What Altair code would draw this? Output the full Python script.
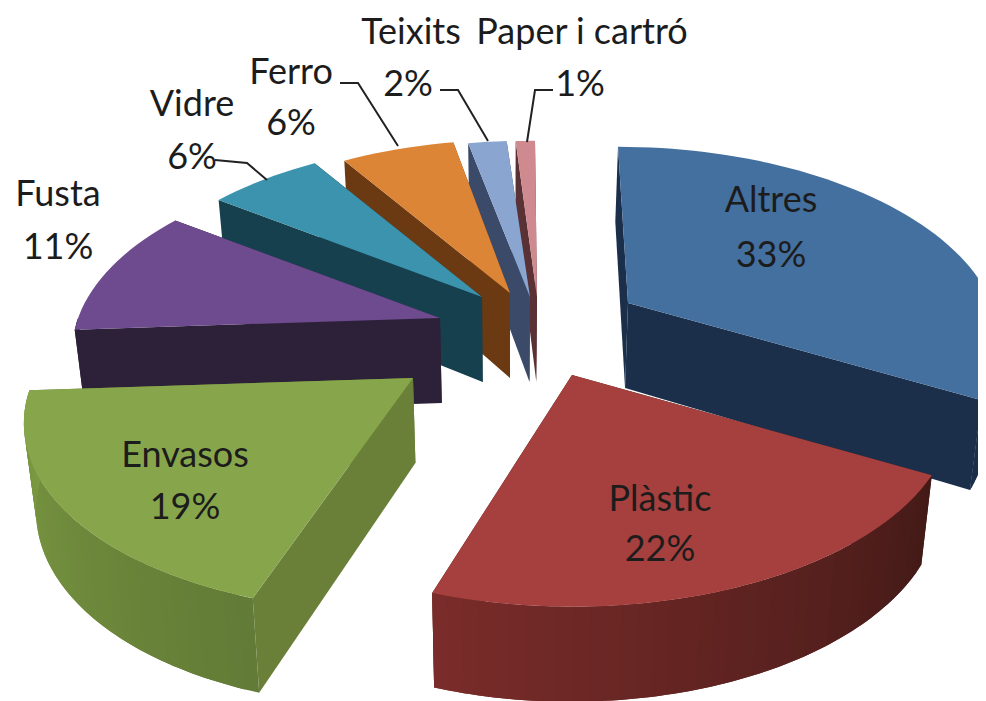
import math
import altair as alt
import pandas as pd

# --- data ---
names = ["Altres", "Plàstic", "Envasos", "Fusta", "Vidre", "Ferro", "Teixits", "Paper i cartró"]
percent = [33, 22, 19, 11, 6, 6, 2, 1]

# --- styling / layout of the 3D look ---
top_col = ["#44709f", "#a5403e", "#87a64b", "#6e4a8e", "#3c93ae", "#dd8537", "#8aa5d0", "#cf8a90"]
side_col = ["#1b2f4b", "#4a1c1a", "#6a8038", "#2c2139", "#17404f", "#6b3a12", "#3b4a69", "#5a3235"]
wall_a = ["#1b2f4b", "#7a2c2a", "#7c9a42", "#2c2139", "#17404f", "#6b3a12", "#3b4a69", "#5a3235"]
wall_b = ["#1b2f4b", "#431a17", "#627b36", "#2c2139", "#17404f", "#6b3a12", "#3b4a69", "#5a3235"]
apex = [(628, 303), (572, 375), (413, 378), (440, 318), (482, 297), (510, 293), (530, 297), (537, 297)]
radial = [0.97, 1.0, 1.01, 0.965, 0.96, 0.95, 0.97, 0.97]
shear = [10, 0, -20, 0, 0, 0, 4, 2]
paint = [7, 6, 5, 4, 3, 0, 2, 1]
SX, SY, P, VX, SHRINK = 375, 190, 0.18, 510, 0.975

label_x = [771, 660, 185, 58, 192, 291, 411, 582]
label_y = [201, 500, 456, 195, 105, 73, 33, 33]
pct_x = [771, 660, 185, 58, 192, 291, 408, 580]
pct_y = [256, 550, 508, 248, 158, 124, 85, 85]
leaders = [
    [(215, 160), (247, 163), (267, 180)],
    [(340, 83), (358, 83), (398, 146)],
    [(440, 90), (458, 90), (488, 141)],
    [(553, 90), (535, 90), (527, 142)],
]

def rim(i, deg):
    a = math.radians(deg)
    u, v = math.sin(a), -math.cos(a)
    f = radial[i] / (1 - P * v)
    return apex[i][0] + SX * u * f + shear[i] * v, apex[i][1] + SY * v * f, v

def drop(x, y, v):
    return VX + (x - VX) * SHRINK, y + 85 + 10 * v

def mix(c1, c2, t):
    a = [int(c1[k:k + 2], 16) for k in (1, 3, 5)]
    b = [int(c2[k:k + 2], 16) for k in (1, 3, 5)]
    return "#%02x%02x%02x" % tuple(round(p + (q - p) * t) for p, q in zip(a, b))

rows = []
pid = 0
def add(points, col):
    global pid
    pid += 1
    for n, (x, y) in enumerate(points):
        rows.append({"poly": pid, "n": n, "x": x, "y": y, "col": col})

bounds = [0]
for p in percent:
    bounds.append(bounds[-1] + p * 3.6)

for i in paint:
    a0, a1 = bounds[i], bounds[i + 1]
    ax, ay = apex[i]
    bx, by = drop(ax, ay, 0)
    for deg in (a1, a0) if i == 0 else (a0, a1):
        x, y, v = rim(i, deg)
        dx, dy = drop(x, y, v)
        add([(ax, ay), (x, y), (dx, dy), (bx, by)], side_col[i])
    # outer wall, only the part turned to the viewer, as overlapping shaded strips
    lo, hi = max(a0, 90), min(a1, 270)
    if hi > lo:
        steps = max(2, int((hi - lo) / 2))
        for s in range(steps):
            d0 = lo + (hi - lo) * s / steps
            d1 = lo + (hi - lo) * min(steps, s + 2) / steps
            dm = [d0 + (d1 - d0) * j / 4 for j in range(5)]
            upper = [rim(i, d)[:2] for d in dm]
            lower = [drop(*rim(i, d)) for d in reversed(dm)]
            add(upper + lower, mix(wall_b[i], wall_a[i], (s + 0.5) / steps))
    n = max(4, int((a1 - a0) / 2))
    top = [(ax, ay)]
    for s in range(n + 1):
        x, y, _ = rim(i, a0 + (a1 - a0) * s / n)
        top.append((x, y))
    add(top, top_col[i])

polys = pd.DataFrame(rows)

X = alt.Scale(domain=[8, 978], range=[0, 970])
Y = alt.Scale(domain=[8, 701], range=[0, 693])

shapes = alt.Chart(polys).mark_line(strokeWidth=0, clip=True).encode(
    x=alt.X("x:Q", scale=X, axis=None),
    y=alt.Y("y:Q", scale=Y, axis=None),
    order="n:Q",
    detail="poly:N",
    fill=alt.Fill("col:N", scale=None),
)

lead_rows = []
for k, pts in enumerate(leaders):
    for n, (x, y) in enumerate(pts):
        lead_rows.append({"k": k, "n": n, "x": x, "y": y})
lines = alt.Chart(pd.DataFrame(lead_rows)).mark_line(color="#222222", strokeWidth=2).encode(
    x=alt.X("x:Q", scale=X, axis=None),
    y=alt.Y("y:Q", scale=Y, axis=None),
    detail="k:N",
    order="n:Q",
)

text_rows = []
for i in range(len(names)):
    text_rows.append({"t": names[i], "x": label_x[i], "y": label_y[i]})
    text_rows.append({"t": f"{percent[i]}%", "x": pct_x[i], "y": pct_y[i]})
texts = alt.Chart(pd.DataFrame(text_rows)).mark_text(
    font="Lato", fontSize=36, color="#1c1c1c", align="center", baseline="middle"
).encode(
    x=alt.X("x:Q", scale=X, axis=None),
    y=alt.Y("y:Q", scale=Y, axis=None),
    text="t:N",
)

chart = (shapes + lines + texts).properties(
    width=970, height=693, padding=0, background="white"
).configure_view(stroke=None)

chart.save("out.html", embed_options={"renderer": "svg", "actions": False})
